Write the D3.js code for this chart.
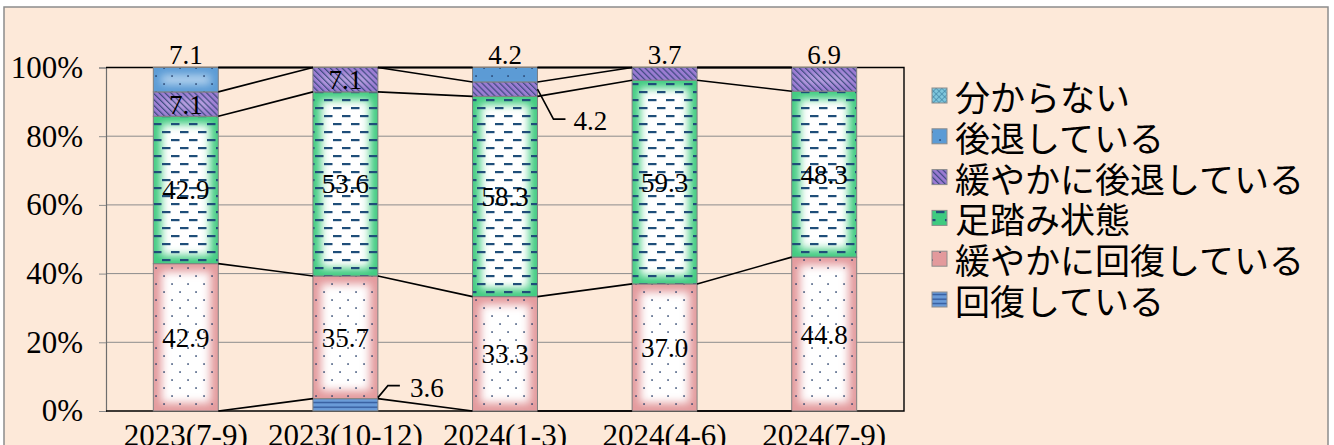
<!DOCTYPE html>
<html><head><meta charset="utf-8">
<script src="https://cdn.jsdelivr.net/npm/d3@7/dist/d3.min.js"></script>
<style>
html,body{margin:0;padding:0;background:#fff;}
svg{display:block;}
</style></head>
<body>
<script>
// ---------- data ----------
const categories = ["2023(7-9)", "2023(10-12)", "2024(1-3)", "2024(4-6)", "2024(7-9)"];
const seriesNames = ["回復している", "緩やかに回復している", "足踏み状態", "緩やかに後退している", "後退している", "分からない"];
const recovering      = [0,    3.6,  0,    0,    0];
const modRecovering   = [42.9, 35.7, 33.3, 37.0, 44.8];
const standstill      = [42.9, 53.6, 58.3, 59.3, 48.3];
const modDeclining    = [7.1,  7.1,  4.2,  3.7,  6.9];
const declining       = [7.1,  0,    4.2,  0,    0];
const unknown         = [0,    0,    0,    0,    0];
const yTicks = [0, 20, 40, 60, 80, 100];
// labels drawn outside the segment: "above" the bar, or with a leader line
const labelModes = [
  {series: "後退している", cat: "2023(7-9)", mode: "above"},
  {series: "後退している", cat: "2024(1-3)", mode: "above"},
  {series: "緩やかに後退している", cat: "2024(4-6)", mode: "above"},
  {series: "緩やかに後退している", cat: "2024(7-9)", mode: "above"},
  {series: "回復している", cat: "2023(10-12)", mode: "leaderUp"},
  {series: "緩やかに後退している", cat: "2024(1-3)", mode: "leaderDown"}
];

const valuesBySeries = [recovering, modRecovering, standstill, modDeclining, declining, unknown];
const rows = categories.map((c, i) => {
  const r = {cat: c};
  seriesNames.forEach((s, k) => r[s] = valuesBySeries[k][i]);
  return r;
});

// ---------- styles ----------
const styles = {
  "回復している":         {edge: "#6B9BD8", center: "#B7D1F0", pattern: "hlines"},
  "緩やかに回復している": {edge: "#E39A9C", center: "#FFFFFF", pattern: "dots"},
  "足踏み状態":           {edge: "#3FCB80", center: "#FFFFFF", pattern: "dashes"},
  "緩やかに後退している": {edge: "#9A7BD2", center: "#C2AEE6", pattern: "hatch"},
  "後退している":         {edge: "#5B9BD5", center: "#C4DCF2", pattern: "dots"},
  "分からない":           {edge: "#7FC6DC", center: "#C8E8F2", pattern: "cross"}
};

const W = 1334, H = 445;
const svg = d3.select("body").append("svg").attr("width", W).attr("height", H);
const defs = svg.append("defs");

// patterns
const ink = "#1F3864";
let p = defs.append("pattern").attr("id", "dots").attr("patternUnits", "userSpaceOnUse").attr("width", 16).attr("height", 16);
p.append("rect").attr("x", 3.3).attr("y", 3.3).attr("width", 1.5).attr("height", 1.5).attr("fill", ink);
p.append("rect").attr("x", 11.3).attr("y", 11.3).attr("width", 1.5).attr("height", 1.5).attr("fill", ink);

p = defs.append("pattern").attr("id", "dashes").attr("patternUnits", "userSpaceOnUse").attr("width", 18).attr("height", 16);
p.append("rect").attr("x", 0).attr("y", 3).attr("width", 8.5).attr("height", 2.2).attr("fill", "#1F4E79");
p.append("rect").attr("x", 9).attr("y", 11).attr("width", 8.5).attr("height", 2.2).attr("fill", "#1F4E79");

p = defs.append("pattern").attr("id", "hatch").attr("patternUnits", "userSpaceOnUse").attr("width", 4.2).attr("height", 4.2)
  .attr("patternTransform", "rotate(-45)");
p.append("rect").attr("x", 0).attr("y", 0).attr("width", 1.2).attr("height", 4.2).attr("fill", ink).attr("opacity", 0.75);

p = defs.append("pattern").attr("id", "hlines").attr("patternUnits", "userSpaceOnUse").attr("width", 8).attr("height", 4.5);
p.append("rect").attr("x", 0).attr("y", 1.5).attr("width", 8).attr("height", 1.3).attr("fill", "#2F5597");

p = defs.append("pattern").attr("id", "cross").attr("patternUnits", "userSpaceOnUse").attr("width", 4).attr("height", 4)
  .attr("patternTransform", "rotate(45)");
p.append("rect").attr("x", 0).attr("y", 0).attr("width", 1).attr("height", 4).attr("fill", "#3A7FA0").attr("opacity", 0.6);
p.append("rect").attr("x", 0).attr("y", 0).attr("width", 4).attr("height", 1).attr("fill", "#3A7FA0").attr("opacity", 0.6);

const blur = defs.append("filter").attr("id", "glow").attr("x", "-20%").attr("y", "-20%").attr("width", "140%").attr("height", "140%");
blur.append("feGaussianBlur").attr("stdDeviation", 4.5);

// ---------- frame ----------
svg.append("rect").attr("x", 4).attr("y", 7).attr("width", 1324).attr("height", 470)
  .attr("fill", "#FDE9D9").attr("stroke", "#8C8C8C").attr("stroke-width", 1.5);

// ---------- scales ----------
const x = d3.scaleBand().domain(categories).range([106, 904]).paddingInner(0.593).paddingOuter(0.2965);
const y = d3.scaleLinear().domain([0, 100]).range([411, 67.5]);
const bw = x.bandwidth();

// gridlines
svg.append("g").selectAll("line").data(yTicks.filter(t => t > 0 && t < 100)).join("line")
  .attr("x1", 106).attr("x2", 904).attr("y1", d => y(d)).attr("y2", d => y(d))
  .attr("stroke", "#8C8C8C").attr("stroke-width", 1);

// y axis
const yAxis = svg.append("g").attr("transform", "translate(106,0)")
  .call(d3.axisLeft(y).tickValues(yTicks).tickFormat(d => d + "%").tickSize(7).tickPadding(16));
yAxis.select(".domain").attr("stroke", "#6E6E6E").attr("stroke-width", 1.2);
yAxis.selectAll(".tick line").attr("stroke", "#8C8C8C");
yAxis.selectAll("text").attr("font-family", "'Liberation Serif', serif").attr("font-size", 31).attr("fill", "#000");

// plot border (top, right, bottom)
svg.append("path").attr("d", `M106,${y(100)}H904V${y(0)}H106`).attr("fill", "none").attr("stroke", "#000").attr("stroke-width", 1.4);

// ---------- bars ----------
const stack = d3.stack().keys(seriesNames)(rows);
const barsG = svg.append("g");
let clipId = 0;
stack.forEach((layer) => {
  const st = styles[layer.key];
  layer.forEach((d) => {
    if (d[1] - d[0] <= 0) return;
    const rx = x(d.data.cat), ry = y(d[1]), rh = y(d[0]) - y(d[1]);
    const id = "clip" + (clipId++);
    defs.append("clipPath").attr("id", id).append("rect").attr("x", rx).attr("y", ry).attr("width", bw).attr("height", rh);
    const g = barsG.append("g").attr("clip-path", `url(#${id})`);
    g.append("rect").attr("x", rx).attr("y", ry).attr("width", bw).attr("height", rh).attr("fill", st.center);
    g.append("rect").attr("x", rx).attr("y", ry).attr("width", bw).attr("height", rh)
      .attr("fill", "none").attr("stroke", st.edge).attr("stroke-width", 16).attr("filter", "url(#glow)");
    g.append("rect").attr("x", rx).attr("y", ry).attr("width", bw).attr("height", rh).attr("fill", `url(#${st.pattern})`);
    barsG.append("rect").attr("x", rx).attr("y", ry).attr("width", bw).attr("height", rh)
      .attr("fill", "none").attr("stroke", "#7F7F7F").attr("stroke-width", 1);
  });
});

// series lines
const slG = svg.append("g");
stack.forEach(layer => {
  for (let i = 0; i < layer.length - 1; i++) {
    const a = layer[i], b = layer[i + 1];
    slG.append("line")
      .attr("x1", x(a.data.cat) + bw).attr("y1", y(a[1]))
      .attr("x2", x(b.data.cat)).attr("y2", y(b[1]))
      .attr("stroke", "#000").attr("stroke-width", 1.6);
  }
});

// ---------- data labels ----------
const lblG = svg.append("g").attr("font-family", "'Liberation Serif', serif").attr("font-size", 27).attr("fill", "#000");
stack.forEach(layer => {
  layer.forEach(d => {
    const v = d[1] - d[0];
    if (v <= 0) return;
    const m = labelModes.find(l => l.series === layer.key && l.cat === d.data.cat);
    const mode = m ? m.mode : "center";
    const cx = x(d.data.cat) + bw / 2;
    const txt = v.toFixed(1);
    if (mode === "center") {
      lblG.append("text").attr("x", cx).attr("y", y((d[0] + d[1]) / 2)).attr("dy", "0.35em")
        .attr("text-anchor", "middle").text(txt);
    } else if (mode === "above") {
      lblG.append("text").attr("x", cx).attr("y", y(100) - 4).attr("text-anchor", "middle").text(txt);
    } else if (mode === "leaderUp") {
      const x0 = x(d.data.cat) + bw, y0 = y(d[1]) - 1;
      lblG.append("path").attr("d", `M${x0},${y0}L${x0 + 10},${y0 - 12}H${x0 + 22}`)
        .attr("fill", "none").attr("stroke", "#000").attr("stroke-width", 1.6);
      lblG.append("text").attr("x", x0 + 32).attr("y", y0 - 10).attr("dy", "0.35em").text(txt);
    } else if (mode === "leaderDown") {
      const x0 = x(d.data.cat) + bw, y0 = y((d[0] + d[1]) / 2);
      lblG.append("path").attr("d", `M${x0},${y0}L${x0 + 16},${y0 + 30}H${x0 + 28}`)
        .attr("fill", "none").attr("stroke", "#000").attr("stroke-width", 1.6);
      lblG.append("text").attr("x", x0 + 36).attr("y", y0 + 31).attr("dy", "0.35em").text(txt);
    }
  });
});

// ---------- x axis labels ----------
svg.append("g").selectAll("text").data(categories).join("text")
  .attr("x", d => x(d) + bw / 2).attr("y", 446).attr("text-anchor", "middle")
  .attr("font-family", "'Liberation Serif', serif").attr("font-size", 31).attr("fill", "#000")
  .text(d => d);

// ---------- legend ----------
const legendItems = seriesNames.slice().reverse();
const lg = svg.append("g");
legendItems.forEach((s, i) => {
  const cy = 95.5 + i * 40.8;
  const st = styles[s];
  lg.append("rect").attr("x", 932).attr("y", cy - 7.5).attr("width", 15).attr("height", 15).attr("fill", st.edge);
  lg.append("rect").attr("x", 932).attr("y", cy - 7.5).attr("width", 15).attr("height", 15).attr("fill", `url(#${st.pattern})`)
    .attr("stroke", "#8C8C8C").attr("stroke-width", 1);
  lg.append("text").attr("x", 955).attr("y", cy).attr("dominant-baseline", "central")
    .attr("font-family", "'Noto Sans CJK JP', sans-serif").attr("font-size", 35).attr("fill", "#000").text(s);
});
</script>
</body></html>
